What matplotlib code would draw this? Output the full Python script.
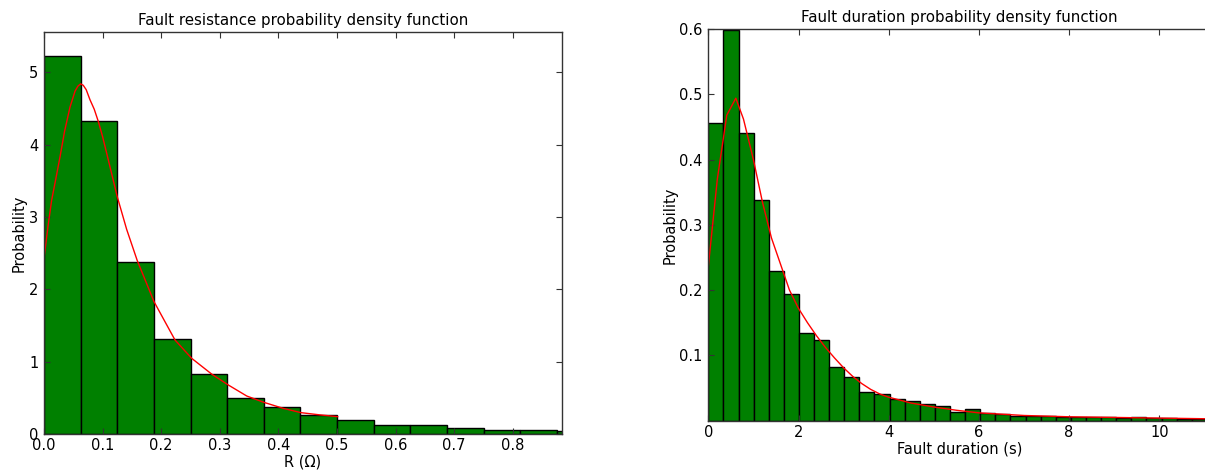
import numpy as np
import matplotlib
matplotlib.use("Agg")
import matplotlib.pyplot as plt

plt.rcParams['font.family'] = ['DejaVu Sans']

# ---------------- data: fault resistance ----------------
r_bin_width = 0.0625
r_density = [5.225, 4.32, 2.378, 1.309, 0.829, 0.502, 0.378, 0.263, 0.194,
             0.12, 0.129, 0.083, 0.05, 0.05, 0.037]
r_curve_x = [0.0, 0.007, 0.013, 0.02, 0.0273, 0.035, 0.0444, 0.053, 0.058,
             0.0626, 0.067, 0.072, 0.0785, 0.0857, 0.0927, 0.1, 0.107, 0.116,
             0.125, 0.141, 0.159, 0.1877, 0.2235, 0.252, 0.286, 0.3146, 0.346,
             0.375, 0.408, 0.4386, 0.47, 0.501]
r_curve_y = [2.43, 2.88, 3.23, 3.52, 3.83, 4.18, 4.52, 4.74, 4.81,
             4.84, 4.82, 4.76, 4.62, 4.49, 4.32, 4.11, 3.88, 3.58,
             3.28, 2.83, 2.40, 1.83, 1.30, 1.046, 0.829, 0.677, 0.525,
             0.438, 0.355, 0.295, 0.265, 0.24]
r_xticks = [0.0, 0.1, 0.2, 0.3, 0.4, 0.5, 0.6, 0.7, 0.8]
r_yticks = [0, 1, 2, 3, 4, 5]

# ---------------- data: fault duration ----------------
d_bin_width = 0.335
d_density = [0.4556, 0.598, 0.440, 0.338, 0.2296, 0.1944, 0.134, 0.124, 0.083,
             0.067, 0.0434, 0.0413, 0.033, 0.0306, 0.026, 0.022, 0.0138, 0.0179,
             0.0117, 0.0107, 0.0077, 0.0071, 0.0071, 0.006, 0.0056, 0.0056,
             0.005, 0.004, 0.0056, 0.0036, 0.0036, 0.0026, 0.0026]
d_curve_x = [0.0, 0.2, 0.41, 0.61, 0.78, 0.89, 1.0, 1.2, 1.4, 1.6, 1.8, 2.0,
             2.2, 2.4, 2.6, 2.8, 3.0, 3.2, 3.4, 3.6, 3.8, 4.0, 4.5, 5.0, 5.5,
             6.0, 7.0, 8.0, 9.0, 10.0, 11.0, 12.0]
d_curve_y = [0.236, 0.37, 0.468, 0.494, 0.462, 0.431, 0.40, 0.335, 0.28, 0.24,
             0.20, 0.172, 0.150, 0.130, 0.112, 0.096, 0.081, 0.068, 0.057,
             0.048, 0.041, 0.036, 0.027, 0.021, 0.016, 0.012, 0.008, 0.006,
             0.005, 0.004, 0.003, 0.0025]
d_xticks = [0, 2, 4, 6, 8, 10]
d_yticks = [0.1, 0.2, 0.3, 0.4, 0.5, 0.6]

W, H = 1205, 471
fig = plt.figure(figsize=(W / 100, H / 100), dpi=100)


def style(ax):
    for s in ax.spines.values():
        s.set_color('#333333')
        s.set_linewidth(1.0)
    ax.tick_params(direction='in', length=4, width=0.8, color='#333333',
                   top=True, right=True, labelsize=10.5)
    ax.tick_params(axis='x', pad=3)
    ax.tick_params(axis='y', pad=4)


# left axes
ax1 = fig.add_axes([44 / W, (H - 434) / H, (561.7 - 44) / W, (434 - 32.3) / H])
edges_r = np.arange(len(r_density)) * r_bin_width
ax1.bar(edges_r, r_density, width=r_bin_width, align='edge', color='green',
        edgecolor='black', linewidth=1.0)
ax1.plot(r_curve_x, r_curve_y, color='red', linewidth=1.0)
ax1.set_xlim(0, 0.8834)
ax1.set_ylim(0, 5.553)
ax1.set_xticks(r_xticks)
ax1.set_yticks(r_yticks)
style(ax1)
ax1.set_title('Fault resistance probability density function', fontsize=10.8, pad=5)
ax1.set_xlabel('R (\u03a9)', fontsize=10.5, labelpad=1)
ax1.set_ylabel('Probability', fontsize=10.5, labelpad=2)

# right axes (extends slightly beyond the canvas, as in the cropped reference)
px_per_unit = 45.1
xmax = 11.15
ax2 = fig.add_axes([708.3 / W, (H - 420.7) / H, xmax * px_per_unit / W, (420.7 - 29) / H])
edges_d = np.arange(len(d_density)) * d_bin_width
ax2.bar(edges_d, d_density, width=d_bin_width, align='edge', color='green',
        edgecolor='black', linewidth=1.0)
ax2.plot(d_curve_x, d_curve_y, color='red', linewidth=1.0)
ax2.set_xlim(0, xmax)
ax2.set_ylim(0, 0.6)
ax2.set_xticks(d_xticks)
ax2.set_yticks(d_yticks)
style(ax2)
ax2.set_title('Fault duration probability density function', fontsize=10.8, pad=5)
ax2.set_xlabel('Fault duration (s)', fontsize=10.5, labelpad=1)
ax2.set_ylabel('Probability', fontsize=10.5, labelpad=1)

fig.savefig('out.png', dpi=100)
